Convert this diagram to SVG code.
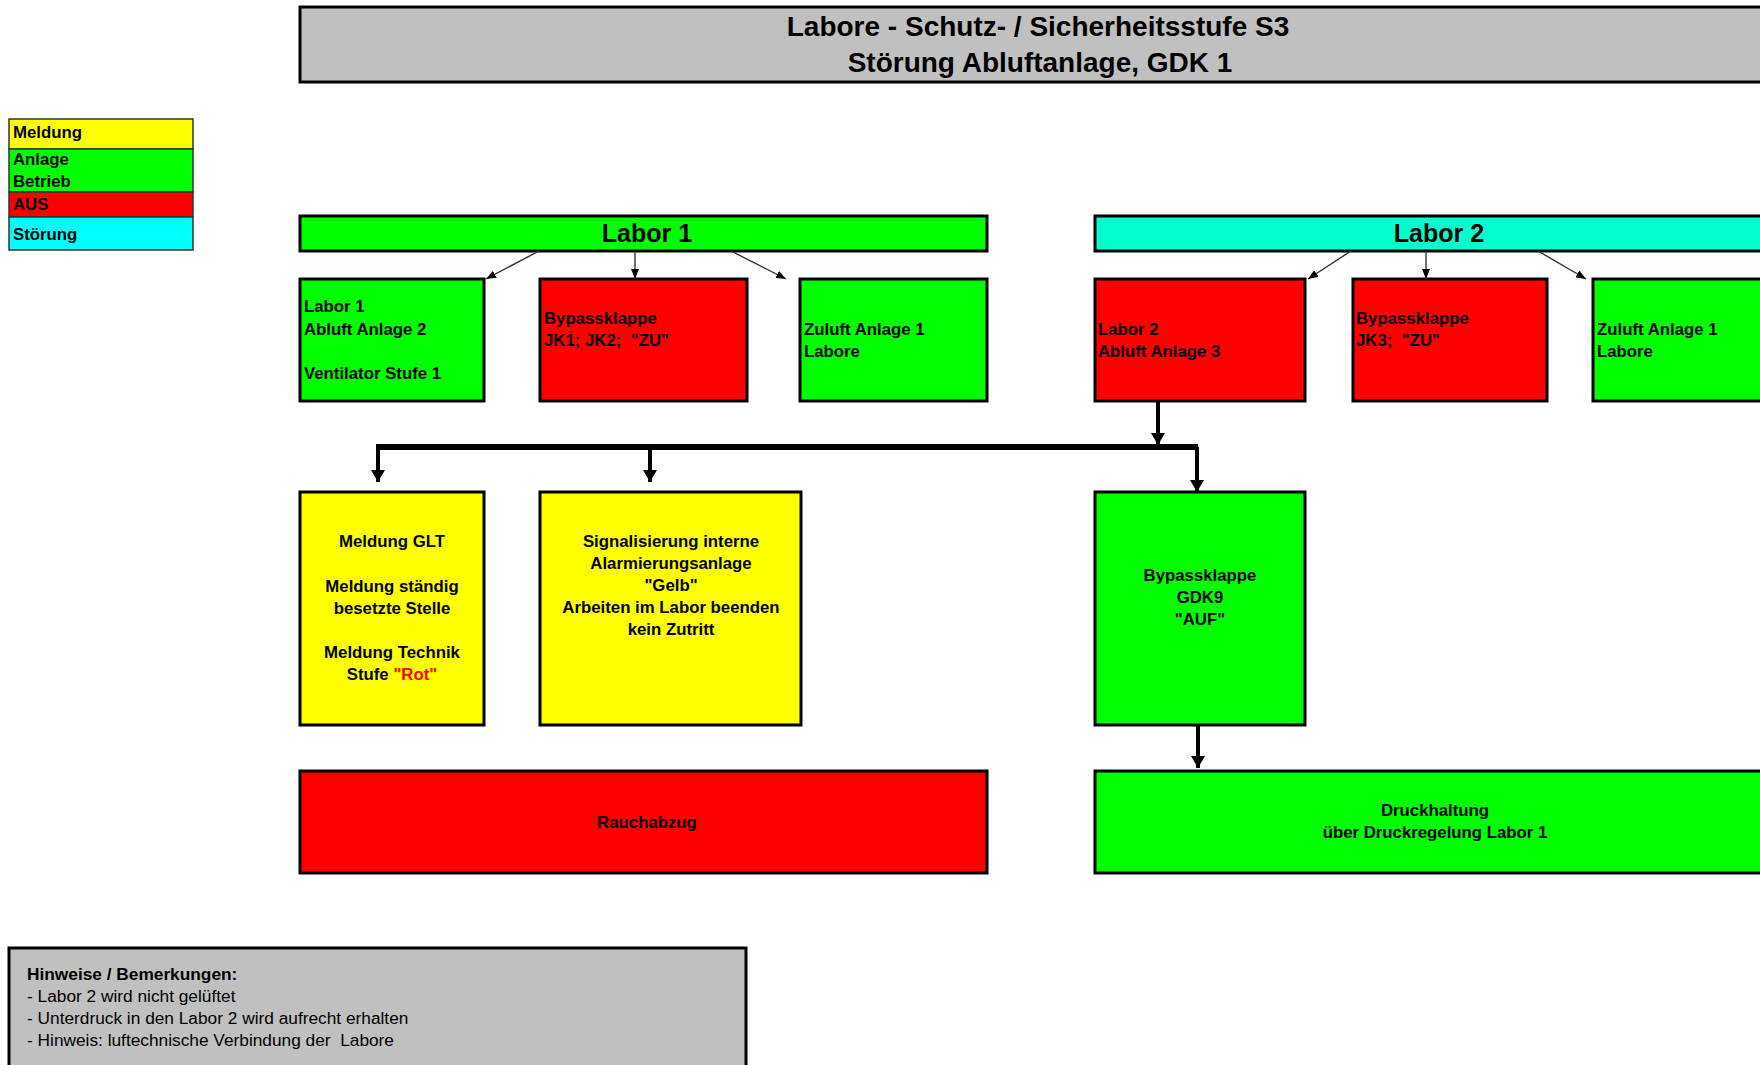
<svg xmlns="http://www.w3.org/2000/svg" width="1760" height="1065" viewBox="0 0 1760 1065">
  <style>
    .box { stroke: #000; stroke-width: 3; }
    .leg { stroke: #333; stroke-width: 1.5; }
    .grey { fill: #c0c0c0; }
    .green { fill: #00ff00; }
    .red { fill: #ff0000; }
    .yellow { fill: #ffff00; }
    .cyan { fill: #00ffff; }
    .aqua { fill: #00ffcc; }
    text { font-family: "Liberation Sans", Arial, sans-serif; fill: #000; }
    .b { font-weight: bold; }
    .t { font-size: 28px; font-weight: bold; }
    .h { font-size: 25px; font-weight: bold; }
    .s { font-size: 16.8px; font-weight: bold; }
    .n { font-size: 17.3px; }
    .mid { text-anchor: middle; }
    .thin { stroke: #333; stroke-width: 1.4; fill: none; }
    .thick { stroke: #000; stroke-width: 4; fill: none; }
    .bus { stroke: #000; stroke-width: 6; fill: none; }
  </style>
  <defs>
    <marker id="ah" markerUnits="userSpaceOnUse" markerWidth="10" markerHeight="8" refX="10" refY="4" orient="auto">
      <path d="M0,0 L10,4 L0,8 Z" fill="#000"/>
    </marker>
    <marker id="ahb" markerUnits="userSpaceOnUse" markerWidth="12" markerHeight="14" refX="12" refY="7" orient="auto">
      <path d="M0,0 L12,7 L0,14 Z" fill="#000"/>
    </marker>
  </defs>

  <rect width="1760" height="1065" fill="#fff"/>

  <!-- heading -->
  <g id="title">
    <rect class="box grey" x="300" y="7" width="1477" height="75"/>
    <text class="t mid" x="1038" y="36">Labore - Schutz- / Sicherheitsstufe S3</text>
    <text class="t mid" x="1040" y="72">Störung Abluftanlage, GDK 1</text>
  </g>

  <!-- colour key -->
  <g id="legend">
    <rect class="leg yellow" x="9" y="119" width="184" height="30"/>
    <rect class="leg green" x="9" y="149" width="184" height="43"/>
    <rect class="leg red" x="9" y="192" width="184" height="25"/>
    <rect class="leg cyan" x="9" y="217" width="184" height="33"/>
    <text class="s" x="13" y="138">Meldung</text>
    <text class="s" x="13" y="165">Anlage</text>
    <text class="s" x="13" y="187">Betrieb</text>
    <text class="s" x="13" y="210">AUS</text>
    <text class="s" x="13" y="240">Störung</text>
  </g>

  <!-- lab headers -->
  <g id="labor1">
    <rect class="box green" x="300" y="216" width="687" height="35"/>
    <text class="h mid" x="647" y="242">Labor 1</text>
  </g>
  <g id="labor2">
    <rect class="box aqua" x="1095" y="216" width="687" height="35"/>
    <text class="h mid" x="1439" y="242">Labor 2</text>
  </g>

  <!-- Labor 1 units -->
  <g id="abluft2">
    <rect class="box green" x="300" y="279" width="184" height="122"/>
    <text class="s" x="304" y="312">Labor 1</text>
    <text class="s" x="304" y="335">Abluft Anlage 2</text>
    <text class="s" x="304" y="379">Ventilator Stufe 1</text>
  </g>
  <g id="jk12">
    <rect class="box red" x="540" y="279" width="207" height="122"/>
    <text class="s" x="544" y="324">Bypassklappe</text>
    <text class="s" x="544" y="346" xml:space="preserve">JK1; JK2;  "ZU"</text>
  </g>
  <g id="zuluft1">
    <rect class="box green" x="800" y="279" width="187" height="122"/>
    <text class="s" x="804" y="335">Zuluft Anlage 1</text>
    <text class="s" x="804" y="357">Labore</text>
  </g>

  <!-- Labor 2 units -->
  <g id="abluft3">
    <rect class="box red" x="1095" y="279" width="210" height="122"/>
    <text class="s" x="1098" y="335">Labor 2</text>
    <text class="s" x="1098" y="357">Abluft Anlage 3</text>
  </g>
  <g id="jk3">
    <rect class="box red" x="1353" y="279" width="194" height="122"/>
    <text class="s" x="1356" y="324">Bypassklappe</text>
    <text class="s" x="1356" y="346" xml:space="preserve">JK3;  "ZU"</text>
  </g>
  <g id="zuluft1b">
    <rect class="box green" x="1593" y="279" width="189" height="122"/>
    <text class="s" x="1597" y="335">Zuluft Anlage 1</text>
    <text class="s" x="1597" y="357">Labore</text>
  </g>

  <!-- alarms -->
  <g id="glt">
    <rect class="box yellow" x="300" y="492" width="184" height="233"/>
    <text class="s mid" x="392" y="547">Meldung GLT</text>
    <text class="s mid" x="392" y="592">Meldung ständig</text>
    <text class="s mid" x="392" y="614">besetzte Stelle</text>
    <text class="s mid" x="392" y="658">Meldung Technik</text>
    <text class="s mid" x="392" y="680" xml:space="preserve">Stufe <tspan fill="#ff0000">"Rot"</tspan></text>
  </g>
  <g id="signal">
    <rect class="box yellow" x="540" y="492" width="261" height="233"/>
    <text class="s mid" x="671" y="547">Signalisierung interne</text>
    <text class="s mid" x="671" y="569">Alarmierungsanlage</text>
    <text class="s mid" x="671" y="591">"Gelb"</text>
    <text class="s mid" x="671" y="613">Arbeiten im Labor beenden</text>
    <text class="s mid" x="671" y="635">kein Zutritt</text>
  </g>
  <g id="gdk9">
    <rect class="box green" x="1095" y="492" width="210" height="233"/>
    <text class="s mid" x="1200" y="581">Bypassklappe</text>
    <text class="s mid" x="1200" y="603">GDK9</text>
    <text class="s mid" x="1200" y="625">"AUF"</text>
  </g>

  <!-- results -->
  <g id="rauch">
    <rect class="box red" x="300" y="771" width="687" height="102"/>
    <text class="s mid" x="647" y="828">Rauchabzug</text>
  </g>
  <g id="druck">
    <rect class="box green" x="1095" y="771" width="687" height="102"/>
    <text class="s mid" x="1435" y="816">Druckhaltung</text>
    <text class="s mid" x="1435" y="838">über Druckregelung Labor 1</text>
  </g>

  <!-- remarks -->
  <g id="notes">
    <rect class="box grey" x="9" y="948" width="737" height="130"/>
    <text class="n b" x="27" y="980">Hinweise / Bemerkungen:</text>
    <text class="n" x="27" y="1002">- Labor 2 wird nicht gelüftet</text>
    <text class="n" x="27" y="1024">- Unterdruck in den Labor 2 wird aufrecht erhalten</text>
    <text class="n" x="27" y="1046" xml:space="preserve">- Hinweis: luftechnische Verbindung der  Labore</text>
  </g>

  <!-- connectors -->
  <g id="connectors">
    <line class="thin" x1="539" y1="251" x2="486" y2="279" marker-end="url(#ah)"/>
    <line class="thin" x1="635" y1="251" x2="635" y2="279" marker-end="url(#ah)"/>
    <line class="thin" x1="731" y1="251" x2="786" y2="279" marker-end="url(#ah)"/>
    <line class="thin" x1="1351" y1="251" x2="1308" y2="279" marker-end="url(#ah)"/>
    <line class="thin" x1="1426" y1="251" x2="1426" y2="279" marker-end="url(#ah)"/>
    <line class="thin" x1="1538" y1="251" x2="1586" y2="279" marker-end="url(#ah)"/>

    <line class="thick" x1="1158" y1="401" x2="1158" y2="445" marker-end="url(#ahb)"/>
    <line class="bus" x1="376" y1="447" x2="1198" y2="447"/>
    <line class="thick" x1="378" y1="447" x2="378" y2="482" marker-end="url(#ahb)"/>
    <line class="thick" x1="650" y1="447" x2="650" y2="482" marker-end="url(#ahb)"/>
    <line class="thick" x1="1197" y1="447" x2="1197" y2="492" marker-end="url(#ahb)"/>
    <line class="thick" x1="1198" y1="725" x2="1198" y2="768" marker-end="url(#ahb)"/>
  </g>
</svg>
